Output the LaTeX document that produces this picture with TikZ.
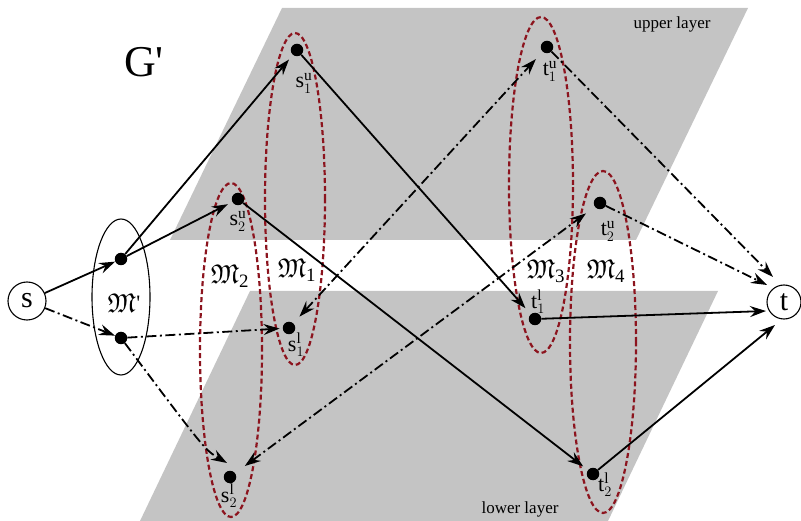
\documentclass[tikz,border=0pt]{standalone}
\usepackage{fontspec}
\setmainfont{Liberation Serif}
\newfontfamily\gfont{Liberation Serif}[Ligatures=TeXOff]
\usepackage{amssymb}
\usetikzlibrary{arrows.meta,shapes.geometric}
\definecolor{layergray}{RGB}{196,196,196}
\definecolor{mred}{RGB}{140,20,30}
\tikzset{ST/.tip={Stealth[length=16pt,width=11pt,inset=5.5pt]}}
\begin{document}
\begin{tikzpicture}[x=1pt,y=-1pt,
  dotnode/.style={circle,fill=black,inner sep=0pt,minimum size=12.5pt},
  term/.style={circle,draw,line width=1.1pt,inner sep=0pt,font=\fontsize{30}{30}\selectfont},
  arr/.style={line width=1.8pt,-ST},
  bidir/.style={line width=1.8pt,ST-ST},
  dd/.style={dash pattern=on 10pt off 3.5pt on 2pt off 3.5pt},
  match/.style={draw=mred,line width=2.2pt,dash pattern=on 5pt off 3pt},
  vlabel/.style={font=\fontsize{22}{22}\selectfont,inner sep=0pt},
  mlabel/.style={font=\fontsize{27}{27}\selectfont,inner sep=0pt},
  layertext/.style={font=\fontsize{17}{17}\selectfont,inner sep=0pt}
]
\useasboundingbox (0,0) rectangle (801,521);
% layers
\fill[layergray] (282,8) -- (748,8) -- (636,240) -- (170,240) -- cycle;
\fill[layergray] (250,291) -- (718,291) -- (608,521) -- (140,521) -- cycle;
\node[layertext] (up) at (672,24) {upper layer};
\node[layertext] (low) at (520,509) {lower layer};
% matching ellipses
\draw[match] (295,199) ellipse [x radius=30pt, y radius=166pt];
\draw[match] (231,350) ellipse [x radius=31pt, y radius=167pt];
\draw[match] (541,185) ellipse [x radius=32pt, y radius=168pt];
\draw[match] (603,342) ellipse [x radius=33pt, y radius=171pt];
% M' ellipse
\node[ellipse,draw,line width=1.1pt,minimum width=58pt,minimum height=156pt] (Mp) at (121,297) {};
\node[mlabel] (MpL) at (124,303) {$\mathfrak{M}$\kern0.5pt\raisebox{2pt}{\gfont\fontsize{22}{22}\selectfont'}};
% terminals
\node[term,minimum size=38pt] (s) at (27,301) {s};
\node[term,minimum size=34pt] (t) at (784,302) {t};
% dots
\node[dotnode] (Mu) at (121,259) {};
\node[dotnode] (Ml) at (121,338) {};
\node[dotnode] (s1u) at (297,50) {};
\node[dotnode] (s2u) at (238,199) {};
\node[dotnode] (t1u) at (547,47) {};
\node[dotnode] (t2u) at (600,203) {};
\node[dotnode] (s1l) at (289,328) {};
\node[dotnode] (s2l) at (230,477) {};
\node[dotnode] (t1l) at (535,319) {};
\node[dotnode] (t2l) at (593,474) {};
% dot labels
\node[vlabel] (s1uL) at (304,83) {s$_{1}^{\mathrm{u}}$};
\node[vlabel] (s2uL) at (238,221) {s$_{2}^{\mathrm{u}}$};
\node[vlabel] (t1uL) at (550,71) {t$_{1}^{\mathrm{u}}$};
\node[vlabel] (t2uL) at (608,231) {t$_{2}^{\mathrm{u}}$};
\node[vlabel] (s1lL) at (296,345) {s$_{1}^{\mathrm{l}}$};
\node[vlabel] (s2lL) at (229,496) {s$_{2}^{\mathrm{l}}$};
\node[vlabel] (t1lL) at (538,302) {t$_{1}^{\mathrm{l}}$};
\node[vlabel] (t2lL) at (605,485) {t$_{2}^{\mathrm{l}}$};
% matching labels
\node[mlabel] (M1L) at (297,270) {$\mathfrak{M}_{\mathrm{1}}$};
\node[mlabel] (M2L) at (230,276) {$\mathfrak{M}_{\mathrm{2}}$};
\node[mlabel] (M3L) at (546,271) {$\mathfrak{M}_{\mathrm{3}}$};
\node[mlabel] (M4L) at (606,271) {$\mathfrak{M}_{\mathrm{4}}$};
% title
\node[font=\gfont\fontsize{44}{44}\selectfont,inner sep=0pt] (G) at (144,62) {G'};
% arrow targets at t
\coordinate (tA) at (773,277);
\coordinate (tB) at (767,285);
\coordinate (tC) at (766,311);
\coordinate (tD) at (775,325);
% solid edges
\draw[arr] (s) -- (Mu);
\draw[arr,shorten >=6pt] (Mu) -- (s1u);
\draw[arr,shorten >=5pt] (Mu) -- (s2u);
\draw[arr,shorten >=8pt] (s1u) -- (t1l);
\draw[arr,shorten >=6pt] (s2u) -- (t2l);
\draw[arr] (t1l) -- (tC);
\draw[arr] (t2l) -- (tD);
% dash-dot edges
\draw[arr,dd] (s) -- (Ml);
\draw[arr,dd,shorten >=3pt] (Ml) -- (s1l);
\draw[arr,dd] (Ml) .. controls (205,450) .. ([xshift=-3pt,yshift=14pt]s2l.center);
\draw[arr,dd] (t1u) -- (tA);
\draw[arr,dd] (t2u) -- (tB);
\draw[bidir,dd,shorten <=9pt,shorten >=10pt] (s1l) -- (t1u);
\draw[bidir,dd,shorten <=12pt,shorten >=11pt] (s2l) -- (t2u);
\end{tikzpicture}
\end{document}
